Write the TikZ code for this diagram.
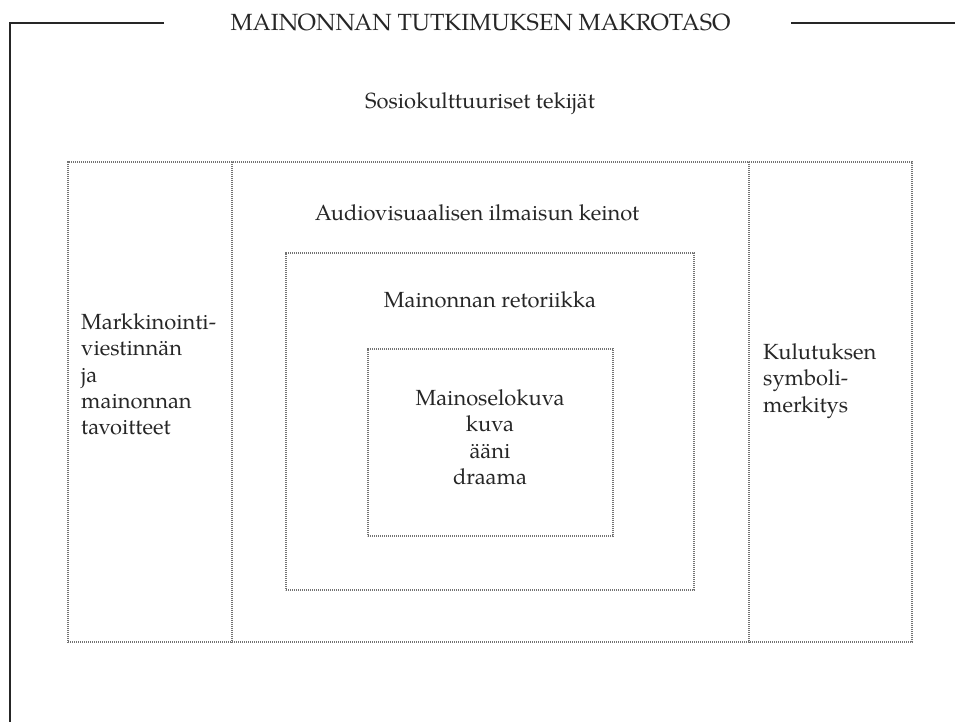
\documentclass[tikz,border=0pt]{standalone}
\usepackage{fontspec}
\setmainfont{texgyrepagella}[Extension=.otf, UprightFont=*-regular, BoldFont=*-bold, ItalicFont=*-italic]
\begin{document}
\begin{tikzpicture}[x=1bp,y=-1bp,
  frameline/.style={line width=1.6bp, draw=black!85},
  dotbox/.style={draw=black!55, line width=1.1bp, dash pattern=on 1.1bp off 0.9bp, inner sep=0pt, outer sep=0pt},
  lbl/.style={font=\fontsize{22}{26.3}\selectfont, inner sep=0pt, text=black!85},
]
\useasboundingbox (0,0) rectangle (955,722);
% outer frame
\coordinate (fa) at (164,23);
\coordinate (fc) at (10,23);
\coordinate (fd) at (10,722);
\coordinate (fe) at (791,23);
\coordinate (ff) at (955,23);
\draw[frameline] (fa) -- (fc) -- (fd);
\draw[frameline] (fe) -- (ff);
\node[lbl, font=\fontsize{23.5}{28}\selectfont] (title) at (480.5,22) {MAINONNAN TUTKIMUKSEN MAKROTASO};
\node[lbl] (socio) at (480,104) {Sosiokulttuuriset tekijät};
% boxes
\node[dotbox, anchor=north west, minimum width=844bp, minimum height=480bp] (outer) at (68,162) {};
\node[dotbox, anchor=north west, minimum width=517bp, minimum height=480bp] (mid) at (232,162) {};
\node[dotbox, anchor=north west, minimum width=408bp, minimum height=337bp] (rhet) at (286,253) {};
\node[dotbox, anchor=north west, minimum width=245bp, minimum height=187bp] (film) at (368,349) {};
% texts
\node[lbl] (av) at (477,213) {Audiovisuaalisen ilmaisun keinot};
\node[lbl] (ret) at (490,300) {Mainonnan retoriikka};
\node[lbl, align=center, anchor=north] (inner) at (490,389.5) {Mainoselokuva\\kuva\\ääni\\draama};
\node[lbl, align=left, anchor=north west] (left) at (81,313.5) {Markkinointi-\\viestinnän\\ja\\mainonnan\\tavoitteet};
\node[lbl, align=left, anchor=north west] (right) at (763,343.5) {Kulutuksen\\symboli-\\merkitys};
\end{tikzpicture}
\end{document}
